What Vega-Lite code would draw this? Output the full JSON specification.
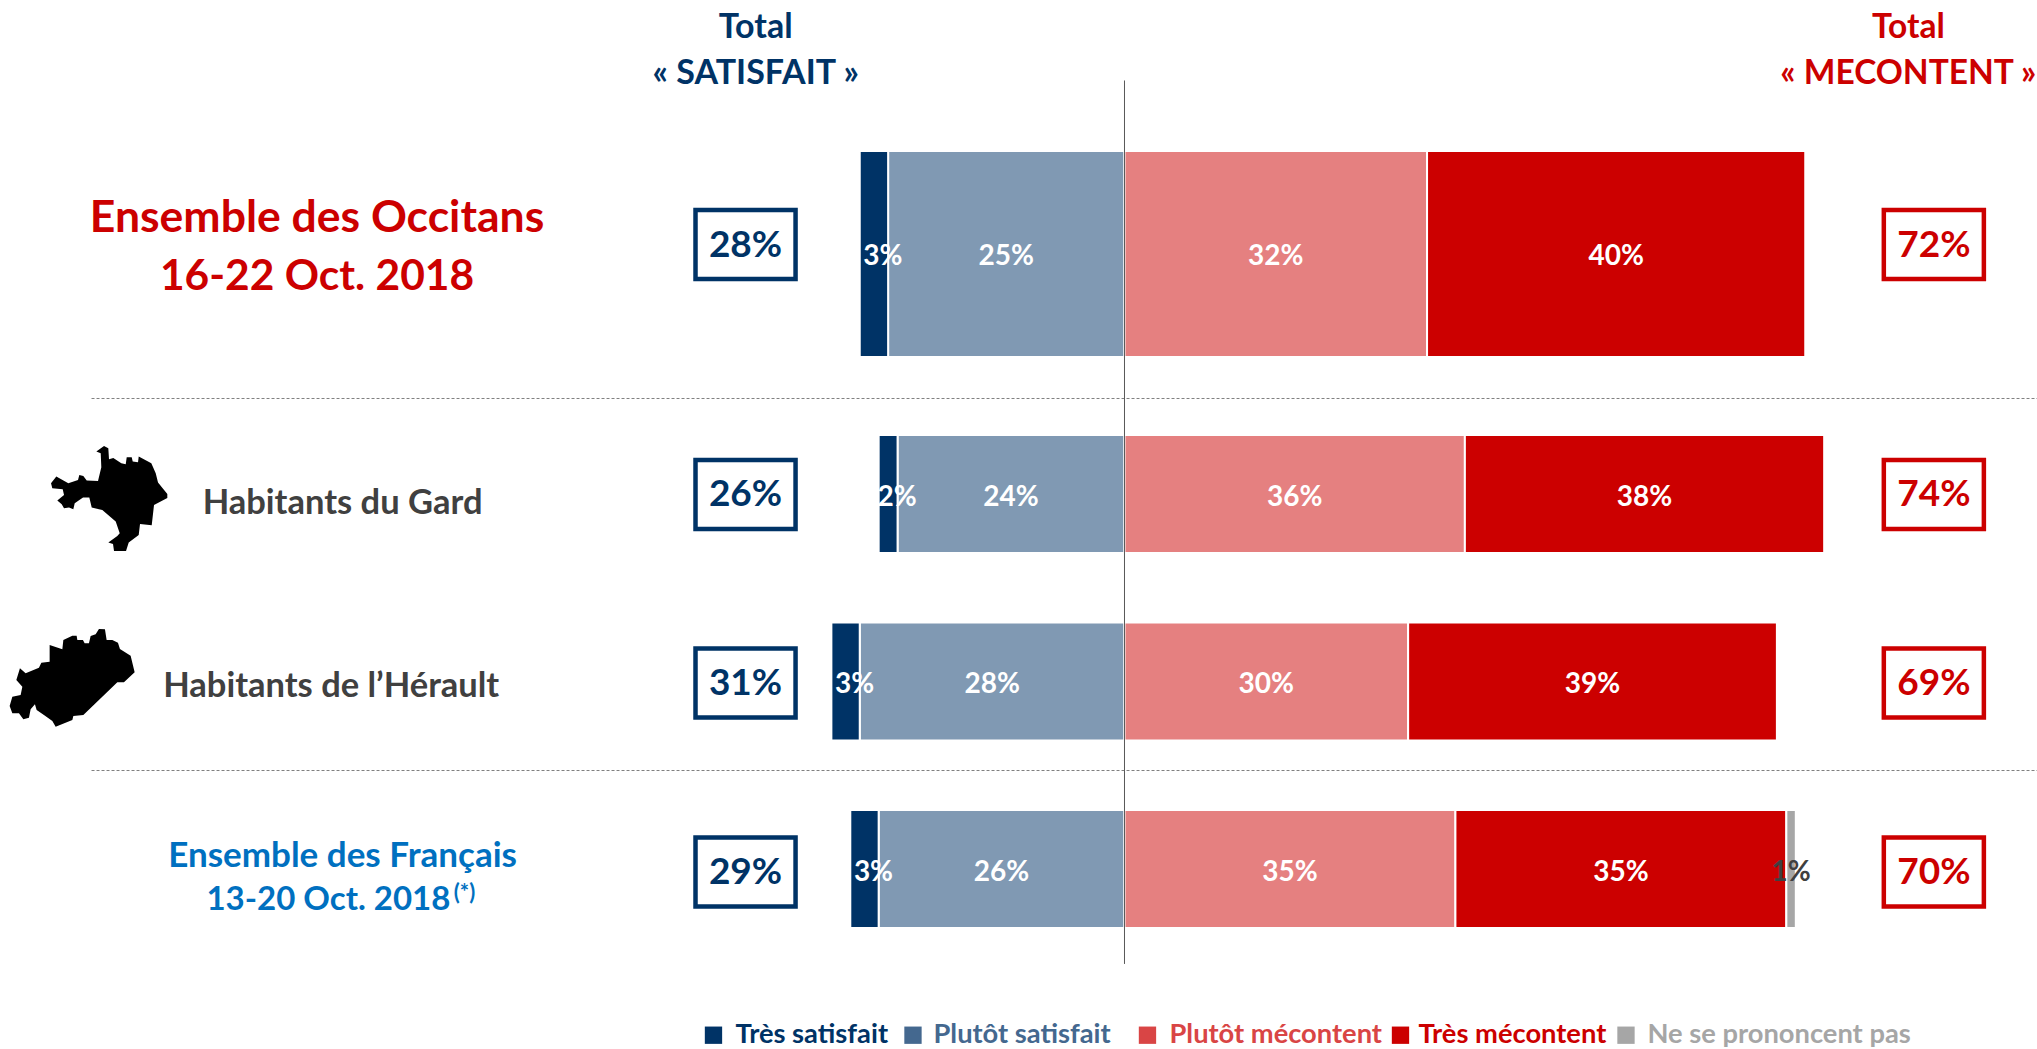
{"$schema":"https://vega.github.io/schema/vega-lite/v6.json","width":2037,"height":1049,"autosize":{"type":"fit","contains":"padding"},"padding":0,"background":"white",
"config":{"view":{"stroke":null},"text":{"font":"Lato","fontWeight":"bold"}},
"params":[{"name":"ydomaine","value":["l0","en-tête","l2","l3","l4","l5","l6","l7","l8","Ensemble des Occitans","l10","l11","l12","l13","l14","l15","l16","l17","Habitants du Gard","l19","l20","l21","l22","l23","l24","Habitants de l’Hérault","l26","l27","l28","l29","l30","l31","Ensemble des Français","l33","l34","l35","l36","l37","légende","l39"]}],
"datasets":{
"segments":[
{"groupe":"Ensemble des Occitans","categorie":"Plutôt satisfait","ordre":1,"valeur":-25},
{"groupe":"Ensemble des Occitans","categorie":"Très satisfait","ordre":2,"valeur":-3},
{"groupe":"Ensemble des Occitans","categorie":"Plutôt mécontent","ordre":3,"valeur":32},
{"groupe":"Ensemble des Occitans","categorie":"Très mécontent","ordre":4,"valeur":40},
{"groupe":"Habitants du Gard","categorie":"Plutôt satisfait","ordre":1,"valeur":-24},
{"groupe":"Habitants du Gard","categorie":"Très satisfait","ordre":2,"valeur":-2},
{"groupe":"Habitants du Gard","categorie":"Plutôt mécontent","ordre":3,"valeur":36},
{"groupe":"Habitants du Gard","categorie":"Très mécontent","ordre":4,"valeur":38},
{"groupe":"Habitants de l’Hérault","categorie":"Plutôt satisfait","ordre":1,"valeur":-28},
{"groupe":"Habitants de l’Hérault","categorie":"Très satisfait","ordre":2,"valeur":-3},
{"groupe":"Habitants de l’Hérault","categorie":"Plutôt mécontent","ordre":3,"valeur":30},
{"groupe":"Habitants de l’Hérault","categorie":"Très mécontent","ordre":4,"valeur":39},
{"groupe":"Ensemble des Français","categorie":"Plutôt satisfait","ordre":1,"valeur":-26},
{"groupe":"Ensemble des Français","categorie":"Très satisfait","ordre":2,"valeur":-3},
{"groupe":"Ensemble des Français","categorie":"Plutôt mécontent","ordre":3,"valeur":35},
{"groupe":"Ensemble des Français","categorie":"Très mécontent","ordre":4,"valeur":35},
{"groupe":"Ensemble des Français","categorie":"Ne se prononcent pas","ordre":5,"valeur":1}],
"totaux":[
{"groupe":"Ensemble des Occitans","satisfait":"28%","mecontent":"72%"},
{"groupe":"Habitants du Gard","satisfait":"26%","mecontent":"74%"},
{"groupe":"Habitants de l’Hérault","satisfait":"31%","mecontent":"69%"},
{"groupe":"Ensemble des Français","satisfait":"29%","mecontent":"70%"}],
"legende":[
{"categorie":"Très satisfait","symbole":-43.47,"libelle":-41.14},
{"categorie":"Plutôt satisfait","symbole":-22.37,"libelle":-20.2},
{"categorie":"Plutôt mécontent","symbole":2.43,"libelle":4.76},
{"categorie":"Très mécontent","symbole":29.19,"libelle":31.09},
{"categorie":"Ne se prononcent pas","symbole":53.04,"libelle":55.31}]},
"layer":[
{"data":{"name":"segments"},"transform":[
{"stack":"valeur","groupby":["groupe"],"sort":[{"field":"ordre","order":"ascending"}],"as":["s0","s1"]},
{"calculate":"(datum.s0+datum.s1)/2","as":"centre"},
{"calculate":"abs(datum.valeur)+'%'","as":"libelle"}],
"encoding":{"y":{"field":"groupe","type":"nominal","axis":null,"scale":{"type":"point","padding":0,"range":[11.7,1056.5],"domain":{"expr":"ydomaine"}}}},
"layer":[
{"transform":[{"filter":"datum.groupe==='Ensemble des Occitans'"}],"mark":{"type":"bar","height":206,"yOffset":1.2,"stroke":"white","strokeWidth":2},
"encoding":{"x":{"field":"s0","type":"quantitative","axis":null,"scale":{"domain":[-118.93,96.51],"range":[0,2037],"nice":false,"zero":false}},"x2":{"field":"s1"},
"color":{"field":"categorie","type":"nominal","legend":null,"scale":{"domain":["Très satisfait","Plutôt satisfait","Plutôt mécontent","Très mécontent","Ne se prononcent pas"],"range":["#003366","#8099B3","#E58080","#CC0000","#A6A6A6"]}}}},
{"transform":[{"filter":"datum.groupe!=='Ensemble des Occitans'"}],"mark":{"type":"bar","height":118,"stroke":"white","strokeWidth":2},
"encoding":{"x":{"field":"s0","type":"quantitative","axis":null,"scale":{"domain":[-118.93,96.51],"range":[0,2037],"nice":false,"zero":false}},"x2":{"field":"s1"},"color":{"field":"categorie","type":"nominal","legend":null}}},
{"transform":[{"filter":"datum.valeur<-3 || datum.valeur>0"}],"mark":{"type":"text","fontSize":28,"yOffset":4},
"encoding":{"x":{"field":"centre","type":"quantitative","axis":null,"scale":{"domain":[-118.93,96.51],"range":[0,2037],"nice":false,"zero":false}},"text":{"field":"libelle"},"fill":{"condition":{"test":"datum.categorie==='Ne se prononcent pas'","value":"#404040"},"value":"white"}}},
{"transform":[{"filter":"datum.valeur<0 && datum.valeur>=-3"}],"mark":{"type":"text","fontSize":28,"yOffset":4,"xOffset":9,"fill":"white"},
"encoding":{"x":{"field":"centre","type":"quantitative","axis":null,"scale":{"domain":[-118.93,96.51],"range":[0,2037],"nice":false,"zero":false}},"text":{"field":"libelle"}}}
]},
{"data":{"values":[{"y":"l14"},{"y":"l28"}]},"mark":{"type":"rule","color":"#808080","strokeWidth":1,"strokeDash":[3,2],"yOffset":{"expr":"datum.y==='l14'?11.74:8.7"}},"encoding":{"x":{"datum":-109.25,"type":"quantitative","axis":null,"scale":{"domain":[-118.93,96.51],"range":[0,2037],"nice":false,"zero":false}},"x2":{"datum":96.51},"y":{"field":"y","type":"nominal","axis":null,"scale":{"type":"point","padding":0,"range":[11.7,1056.5],"domain":{"expr":"ydomaine"}}}}},
{"data":{"values":[{"y":"l2","y2":"l35"}]},"mark":{"type":"rule","color":"#595959","strokeWidth":1,"yOffset":15.2,"y2Offset":14.6},"encoding":{"x":{"datum":0,"type":"quantitative","axis":null,"scale":{"domain":[-118.93,96.51],"range":[0,2037],"nice":false,"zero":false}},"y":{"field":"y","type":"nominal","axis":null,"scale":{"type":"point","padding":0,"range":[11.7,1056.5],"domain":{"expr":"ydomaine"}}},"y2":{"field":"y2"}}},
{"data":{"name":"totaux"},"encoding":{"y":{"field":"groupe","type":"nominal","axis":null,"scale":{"type":"point","padding":0,"range":[11.7,1056.5],"domain":{"expr":"ydomaine"}}}},"layer":[
{"mark":{"type":"point","shape":"M-1.45,-1H1.45V1H-1.45Z","size":4761,"filled":false,"stroke":"#003366","strokeWidth":4.5,"opacity":1,"yOffset":{"expr":"datum.groupe==='Ensemble des Occitans'?-8.3:datum.groupe==='Habitants du Gard'?0.5:datum.groupe==='Ensemble des Français'?3:1.5"}},"encoding":{"x":{"datum":-40.08,"type":"quantitative","axis":null,"scale":{"domain":[-118.93,96.51],"range":[0,2037],"nice":false,"zero":false}}}},
{"mark":{"type":"point","shape":"M-1.45,-1H1.45V1H-1.45Z","size":4761,"filled":false,"stroke":"#CC0000","strokeWidth":4.5,"opacity":1,"yOffset":{"expr":"datum.groupe==='Ensemble des Occitans'?-8.3:datum.groupe==='Habitants du Gard'?0.5:datum.groupe==='Ensemble des Français'?3:1.5"}},"encoding":{"x":{"datum":85.6,"type":"quantitative","axis":null,"scale":{"domain":[-118.93,96.51],"range":[0,2037],"nice":false,"zero":false}}}},
{"mark":{"type":"text","fontSize":37,"fill":"#003366","yOffset":{"expr":"datum.groupe==='Ensemble des Occitans'?-7.3:datum.groupe==='Habitants du Gard'?1.5:datum.groupe==='Ensemble des Français'?4:2.5"}},"encoding":{"x":{"datum":-40.08,"type":"quantitative","axis":null,"scale":{"domain":[-118.93,96.51],"range":[0,2037],"nice":false,"zero":false}},"text":{"field":"satisfait"}}},
{"mark":{"type":"text","fontSize":37,"fill":"#CC0000","yOffset":{"expr":"datum.groupe==='Ensemble des Occitans'?-7.3:datum.groupe==='Habitants du Gard'?1.5:datum.groupe==='Ensemble des Français'?4:2.5"}},"encoding":{"x":{"datum":85.6,"type":"quantitative","axis":null,"scale":{"domain":[-118.93,96.51],"range":[0,2037],"nice":false,"zero":false}},"text":{"field":"mecontent"}}}
]},
{"data":{"values":[{"groupe":"en-tête","texte":"Total\n« SATISFAIT »","x":-39}]},
"mark":{"type":"text","fontSize":34,"fill":"#003366","lineBreak":"\n","lineHeight":46,"yOffset":-10},"encoding":{"x":{"field":"x","type":"quantitative","axis":null,"scale":{"domain":[-118.93,96.51],"range":[0,2037],"nice":false,"zero":false}},"y":{"field":"groupe","type":"nominal","axis":null,"scale":{"type":"point","padding":0,"range":[11.7,1056.5],"domain":{"expr":"ydomaine"}}},"text":{"field":"texte"}}},
{"data":{"values":[{"groupe":"en-tête","texte":"Total\n« MECONTENT »","x":82.9}]},
"mark":{"type":"text","fontSize":33.5,"fill":"#CC0000","lineBreak":"\n","lineHeight":46,"yOffset":-10},"encoding":{"x":{"field":"x","type":"quantitative","axis":null,"scale":{"domain":[-118.93,96.51],"range":[0,2037],"nice":false,"zero":false}},"y":{"field":"groupe","type":"nominal","axis":null,"scale":{"type":"point","padding":0,"range":[11.7,1056.5],"domain":{"expr":"ydomaine"}}},"text":{"field":"texte"}}},
{"data":{"values":[{"groupe":"Ensemble des Occitans","texte":"Ensemble des Occitans","x":-85.4}]},
"mark":{"type":"text","fontSize":44.5,"fill":"#CC0000","yOffset":-34},"encoding":{"x":{"field":"x","type":"quantitative","axis":null,"scale":{"domain":[-118.93,96.51],"range":[0,2037],"nice":false,"zero":false}},"y":{"field":"groupe","type":"nominal","axis":null,"scale":{"type":"point","padding":0,"range":[11.7,1056.5],"domain":{"expr":"ydomaine"}}},"text":{"field":"texte"}}},
{"data":{"values":[{"groupe":"Ensemble des Occitans","texte":"16-22 Oct. 2018","x":-85.4}]},
"mark":{"type":"text","fontSize":42.5,"fill":"#CC0000","yOffset":24},"encoding":{"x":{"field":"x","type":"quantitative","axis":null,"scale":{"domain":[-118.93,96.51],"range":[0,2037],"nice":false,"zero":false}},"y":{"field":"groupe","type":"nominal","axis":null,"scale":{"type":"point","padding":0,"range":[11.7,1056.5],"domain":{"expr":"ydomaine"}}},"text":{"field":"texte"}}},
{"data":{"values":[{"groupe":"Habitants du Gard","x":-82.7},{"groupe":"Habitants de l’Hérault","x":-83.9}]},
"mark":{"type":"text","fontSize":34.5,"fill":"#404040","yOffset":{"expr":"datum.groupe==='Habitants du Gard'?10:5.6"}},"encoding":{"x":{"field":"x","type":"quantitative","axis":null,"scale":{"domain":[-118.93,96.51],"range":[0,2037],"nice":false,"zero":false}},"y":{"field":"groupe","type":"nominal","axis":null,"scale":{"type":"point","padding":0,"range":[11.7,1056.5],"domain":{"expr":"ydomaine"}}},"text":{"field":"groupe"}}},
{"data":{"values":[{"groupe":"Ensemble des Français","texte":"Ensemble des Français","x":-82.7}]},
"mark":{"type":"text","fontSize":35,"fill":"#0070C0","yOffset":-13},"encoding":{"x":{"field":"x","type":"quantitative","axis":null,"scale":{"domain":[-118.93,96.51],"range":[0,2037],"nice":false,"zero":false}},"y":{"field":"groupe","type":"nominal","axis":null,"scale":{"type":"point","padding":0,"range":[11.7,1056.5],"domain":{"expr":"ydomaine"}}},"text":{"field":"texte"}}},
{"data":{"values":[{"groupe":"Ensemble des Français","texte":"13-20 Oct. 2018","x":-84.2}]},
"mark":{"type":"text","fontSize":33,"fill":"#0070C0","yOffset":31},"encoding":{"x":{"field":"x","type":"quantitative","axis":null,"scale":{"domain":[-118.93,96.51],"range":[0,2037],"nice":false,"zero":false}},"y":{"field":"groupe","type":"nominal","axis":null,"scale":{"type":"point","padding":0,"range":[11.7,1056.5],"domain":{"expr":"ydomaine"}}},"text":{"field":"texte"}}},
{"data":{"values":[{"groupe":"Ensemble des Français","texte":"(*)","x":-69.8}]},
"mark":{"type":"text","fontSize":22,"fill":"#0070C0","yOffset":24},"encoding":{"x":{"field":"x","type":"quantitative","axis":null,"scale":{"domain":[-118.93,96.51],"range":[0,2037],"nice":false,"zero":false}},"y":{"field":"groupe","type":"nominal","axis":null,"scale":{"type":"point","padding":0,"range":[11.7,1056.5],"domain":{"expr":"ydomaine"}}},"text":{"field":"texte"}}},
{"data":{"values":[{"groupe":"Habitants du Gard","x":-107.4}]},"mark":{"type":"point","filled":true,"fill":"black","opacity":1,"size":4,"yOffset":4.4,"shape":"M-5,-52.3L-0.7,-50L0,-39L4.3,-40.3L12.3,-35L16.7,-34L17.7,-41L22.7,-41L23.7,-36.7L29,-36L29.7,-41.7L42.3,-35L46.7,-25L49,-15.7L58.3,-4.3L58.3,-0.3L45,6.7L42.7,27L31,25.7L29.7,36.7L19.7,44.3L17,52.7L5,52.7L4,45.7L-0.7,44.3L8.3,37.7L10.7,35L6.7,23.3L-6.7,11.7L-17.3,9.3L-19.7,-0.7L-26,-0.7L-34.3,5L-35.7,11L-40,9.3L-45,10L-47.3,6L-51.7,2.3L-45,-3.3L-46.3,-9L-56.7,-10L-58,-15L-52.7,-21.7L-40.7,-15L-31,-18.3L-29.7,-23.3L-25.7,-22.3L-22.3,-17.7L-11,-17.3L-7.7,-31L-8.3,-45L-12.7,-46.7Z"},"encoding":{"x":{"field":"x","type":"quantitative","axis":null,"scale":{"domain":[-118.93,96.51],"range":[0,2037],"nice":false,"zero":false}},"y":{"field":"groupe","type":"nominal","axis":null,"scale":{"type":"point","padding":0,"range":[11.7,1056.5],"domain":{"expr":"ydomaine"}}}}},
{"data":{"values":[{"groupe":"Habitants de l’Hérault","x":-111.3}]},"mark":{"type":"point","filled":true,"fill":"black","opacity":1,"size":4,"yOffset":-3.9,"shape":"M26.8,-48.5L32.8,-48.2L34.5,-37.5L40.2,-37.5L45.8,-34.8L47.8,-28.5L58.5,-21.8L62.5,-5.2L51.8,4.8L45.2,4.8L11.2,37.5L1.2,38.5L0.2,42.5L-16.5,49.2L-19.8,43.5L-28.2,37.5L-35.5,32.5L-37.2,26.8L-41.5,31.8L-43.2,40.2L-48.8,41.8L-53.2,35.8L-59.8,35.8L-62.5,28.5L-59.8,19.2L-51.5,17.5L-49.8,9.2L-55.8,2.5L-52.2,-9.2L-46.5,-4.2L-33.2,-9.8L-30.8,-14.8L-22.5,-15.8L-22.5,-32.5L-9.8,-28.2L-8.8,-37.5L0.2,-41.8L4.5,-41.8L5.2,-37.5L10.8,-37.5L12.5,-34.2L16.8,-34.2L18.5,-41.5L23.5,-43.2Z"},"encoding":{"x":{"field":"x","type":"quantitative","axis":null,"scale":{"domain":[-118.93,96.51],"range":[0,2037],"nice":false,"zero":false}},"y":{"field":"groupe","type":"nominal","axis":null,"scale":{"type":"point","padding":0,"range":[11.7,1056.5],"domain":{"expr":"ydomaine"}}}}},
{"data":{"name":"legende"},"transform":[{"calculate":"'légende'","as":"ligne"},{"calculate":"{'Très satisfait':'#003366','Plutôt satisfait':'#44688F','Plutôt mécontent':'#D94545','Très mécontent':'#CC0000','Ne se prononcent pas':'#A6A6A6'}[datum.categorie]","as":"teinte"}],
"encoding":{"y":{"field":"ligne","type":"nominal","axis":null,"scale":{"type":"point","padding":0,"range":[11.7,1056.5],"domain":{"expr":"ydomaine"}}}},
"layer":[
{"mark":{"type":"point","filled":true,"opacity":1,"shape":"square","size":300,"yOffset":5.5},"encoding":{"x":{"field":"symbole","type":"quantitative","axis":null,"scale":{"domain":[-118.93,96.51],"range":[0,2037],"nice":false,"zero":false}},"fill":{"field":"teinte","type":"nominal","scale":null}}},
{"mark":{"type":"text","fontSize":27.3,"align":"left","yOffset":5.5},"encoding":{"x":{"field":"libelle","type":"quantitative","axis":null,"scale":{"domain":[-118.93,96.51],"range":[0,2037],"nice":false,"zero":false}},"text":{"field":"categorie"},"fill":{"field":"teinte","type":"nominal","scale":null}}}
]}
]}
